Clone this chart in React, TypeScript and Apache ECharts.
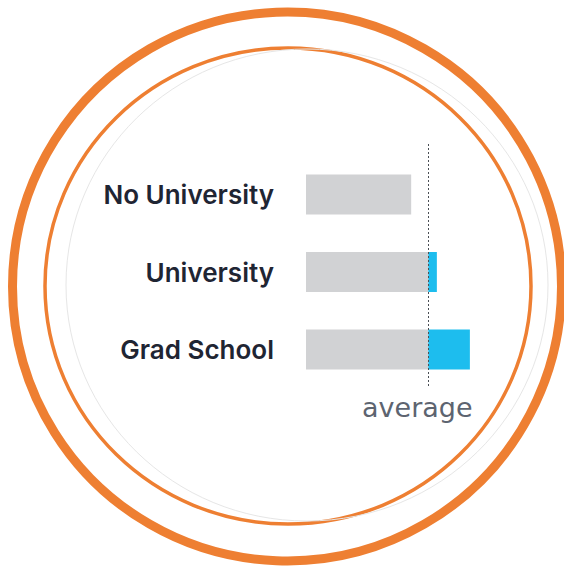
import React, { useEffect, useRef } from "react";
import * as echarts from "echarts";

const categories = ["No University", "University", "Grad School"];
const values = [86, 107, 134];
const averageValue = 100;
const averageLabel = "average";

const baseValues = values.map((v) => Math.min(v, averageValue));
const extraValues = values.map((v) => Math.max(0, v - averageValue));

export default function App() {
  const ref = useRef<HTMLDivElement>(null);
  useEffect(() => {
    if (!ref.current) return;
    const chart = echarts.init(ref.current, null, { renderer: "svg" });
    chart.setOption({
      animation: false,
      backgroundColor: "#ffffff",
      graphic: [
        {
          type: "circle",
          shape: { cx: 287, cy: 286.5, r: 274.5 },
          style: { fill: "none", stroke: "#ee7f32", lineWidth: 9 },
          silent: true,
          z: -10,
        },
        {
          type: "ellipse",
          shape: { cx: 288, cy: 286, rx: 243, ry: 238 },
          style: { fill: "none", stroke: "#ee7f32", lineWidth: 3.5 },
          silent: true,
          z: -10,
        },
        {
          type: "ellipse",
          shape: { cx: 307, cy: 285, rx: 241, ry: 236 },
          style: { fill: "none", stroke: "#e6e6e6", lineWidth: 1 },
          silent: true,
          z: -10,
        },
      ],
      grid: { left: 306, top: 155.75, width: 244.6, height: 232.5 },
      xAxis: { type: "value", min: 0, max: 200, show: false },
      yAxis: {
        type: "category",
        data: categories,
        inverse: true,
        axisLine: { show: false },
        axisTick: { show: false },
        splitLine: { show: false },
        axisLabel: {
          margin: 32,
          fontSize: 26,
          fontWeight: 600,
          fontFamily: "Inter",
          color: "#1f2533",
        },
      },
      series: [
        {
          type: "bar",
          stack: "a",
          data: baseValues,
          barWidth: 40,
          itemStyle: { color: "#d1d2d4" },
          markLine: {
            silent: true,
            symbol: "none",
            lineStyle: { type: [2, 2], color: "#4a4f55", width: 1 },
            label: {
              show: true,
              position: "end",
              formatter: averageLabel,
              fontSize: 27,
              fontFamily: "DejaVu Sans",
              color: "#5d6470",
              distance: 6,
              padding: [0, 22, 0, 0],
            },
            data: [[{ xAxis: averageValue, y: 144 }, { xAxis: averageValue, y: 388 }]],
          },
        },
        {
          type: "bar",
          stack: "a",
          data: extraValues,
          barWidth: 40,
          itemStyle: { color: "#1dbdee" },
        },
      ],
    });
    return () => chart.dispose();
  }, []);
  return (
    <div
      ref={ref}
      style={{ position: "fixed", left: 0, top: 0, width: 564, height: 569 }}
    />
  );
}
